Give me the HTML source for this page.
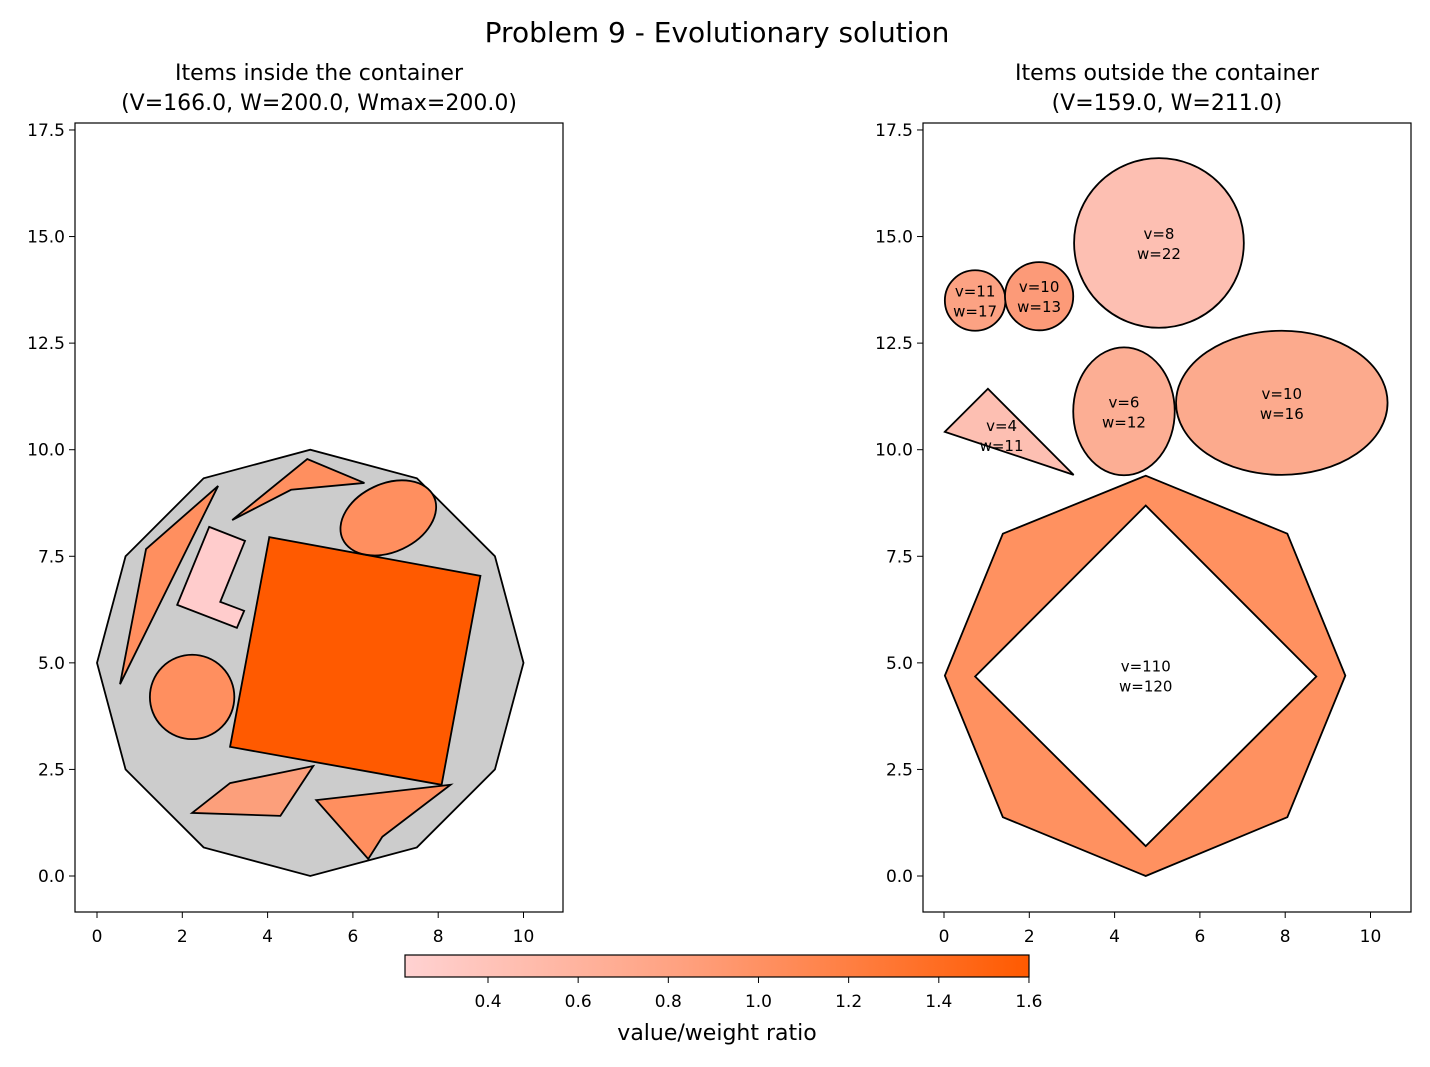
<!DOCTYPE html>
<html><head><meta charset="utf-8"><style>
body{margin:0;background:#fff;}
svg{display:block;font-family:"DejaVu Sans","Liberation Sans",sans-serif;}
</style></head><body>
<svg id="chart" width="1430" height="1067" viewBox="0 0 1430 1067">
<defs><linearGradient id="cg" x1="0" x2="1" y1="0" y2="0">
<stop offset="0" stop-color="#ffd2d2"/><stop offset="0.45" stop-color="#ffa07e"/><stop offset="1" stop-color="#ff5a00"/></linearGradient></defs>
<text x="717" y="42" text-anchor="middle" font-size="28">Problem 9 - Evolutionary solution</text>
<g id="left"></g>
<g id="right"></g>
<g id="cbar"></g>
</svg>
<script>
const xTicks=[0,2,4,6,8,10];
const yTicks=[0.0,2.5,5.0,7.5,10.0,12.5,15.0,17.5];
const cbTicks=[0.4,0.6,0.8,1.0,1.2,1.4,1.6];
const containerPoly=[[10,5],[9.33,7.5],[7.5,9.33],[5,10],[2.5,9.33],[0.67,7.5],[0,5],[0.67,2.5],[2.5,0.67],[5,0],[7.5,0.67],[9.33,2.5]];
const insidePolys=[
 {pts:[[1.15,7.67],[2.84,9.15],[0.54,4.5]],c:"#ff8f5f"},
 {pts:[[3.17,8.35],[4.93,9.78],[6.27,9.22],[4.55,9.06]],c:"#ff8f5f"},
 {pts:[[2.63,8.19],[3.47,7.86],[2.89,6.43],[3.45,6.22],[3.28,5.82],[1.88,6.36]],c:"#ffcccc"},
 {pts:[[4.04,7.95],[8.99,7.04],[8.08,2.14],[3.12,3.03]],c:"#ff5a00"},
 {pts:[[2.23,1.48],[3.12,2.18],[5.07,2.58],[4.3,1.41]],c:"#fc9f7b"},
 {pts:[[5.14,1.78],[8.29,2.14],[6.69,0.92],[6.36,0.4]],c:"#ff8f5f"}];
const insideEllipses=[{cx:2.23,cy:4.2,rx:0.99,ry:0.99,rot:0,c:"#ff8f5f"},{cx:6.83,cy:8.4,rx:1.18,ry:0.8,rot:-25,c:"#ff8f5f"}];
const outsideEllipses=[
 {cx:0.73,cy:13.5,rx:0.71,ry:0.71,c:"#fca283",l:["v=11","w=17"]},
 {cx:2.23,cy:13.6,rx:0.8,ry:0.8,c:"#fc9a78",l:["v=10","w=13"]},
 {cx:5.04,cy:14.85,rx:1.99,ry:1.99,c:"#fdbfb2",l:["v=8","w=22"]},
 {cx:4.22,cy:10.9,rx:1.19,ry:1.5,c:"#fcae94",l:["v=6","w=12"]},
 {cx:7.92,cy:11.1,rx:2.48,ry:1.69,c:"#fcaa8d",l:["v=10","w=16"]}];
const outsideTri=[[0.02,10.42],[1.03,11.43],[3.04,9.41]];
const triLabel=["v=4","w=11"],triLabelPos=[1.35,10.35];
const octOuter=[[1.38,8.03],[4.73,9.39],[8.05,8.03],[9.41,4.7],[8.05,1.38],[4.73,0.0],[1.38,1.38],[0.02,4.7]];
const octInner=[[4.73,8.69],[8.73,4.68],[4.73,0.7],[0.73,4.68]];
const octLabel=["v=110","w=120"],octLabelPos=[4.73,4.7];
const NS="http://www.w3.org/2000/svg";
function el(t,a,p){const e=document.createElementNS(NS,t);for(const k in a)e.setAttribute(k,a[k]);p.appendChild(e);return e;}
function panel(g,x0,fl,fr,ft,fb,titles){
 const sx=v=>x0+v*42.65, sy=v=>876-v*42.63;
 el('rect',{x:fl,y:ft,width:fr-fl,height:fb-ft,fill:'#fff',stroke:'none'},g);
 titles.forEach((t,i)=>{const e=el('text',{x:(fl+fr)/2,y:80+i*30,'text-anchor':'middle','font-size':22},g);e.textContent=t;
  
  });
 xTicks.forEach(v=>{el('line',{x1:sx(v),x2:sx(v),y1:fb,y2:fb+6,stroke:'#000'},g);
  const e=el('text',{x:sx(v),y:fb+30,'text-anchor':'middle','font-size':17},g);e.textContent=v;
  
  });
 yTicks.forEach(v=>{el('line',{x1:fl,x2:fl-6,y1:sy(v),y2:sy(v),stroke:'#000'},g);
  const e=el('text',{x:fl-10,y:sy(v)+6,'text-anchor':'end','font-size':17},g);e.textContent=v.toFixed(1);
  
  });
 return [sx,sy];
}
function pts(a,sx,sy){return a.map(p=>sx(p[0])+','+sy(p[1])).join(' ');}
function label(g,lines,x,y){lines.forEach((t,i)=>{const e=el('text',{x:x,y:y-4+i*20,'text-anchor':'middle','font-size':15},g);e.textContent=t;
 
 });}
const L=document.getElementById('left');
let [sx,sy]=panel(L,97,75,563,123,912,["Items inside the container","(V=166.0, W=200.0, Wmax=200.0)"]);
let c=el('polygon',{points:pts(containerPoly,sx,sy),fill:'#cccccc',stroke:'#000','stroke-width':1.8},L);


insidePolys.forEach(p=>{const e=el('polygon',{points:pts(p.pts,sx,sy),fill:p.c,stroke:'#000','stroke-width':1.8},L);
 
 });
insideEllipses.forEach(p=>{const e=el('ellipse',{cx:sx(p.cx),cy:sy(p.cy),rx:p.rx*42.65,ry:p.ry*42.63,fill:p.c,stroke:'#000','stroke-width':1.8,transform:`rotate(${p.rot} ${sx(p.cx)} ${sy(p.cy)})`},L);
 
 });
el('rect',{x:75,y:123,width:488,height:789,fill:'none',stroke:'#000','stroke-width':1.2},L);
const R=document.getElementById('right');
[sx,sy]=panel(R,944,923,1411,123,912,["Items outside the container","(V=159.0, W=211.0)"]);
outsideEllipses.forEach(p=>{const e=el('ellipse',{cx:sx(p.cx),cy:sy(p.cy),rx:p.rx*42.65,ry:p.ry*42.63,fill:p.c,stroke:'#000','stroke-width':1.8},R);
 
 
 label(R,p.l,sx(p.cx),sy(p.cy));});
let t=el('polygon',{points:pts(outsideTri,sx,sy),fill:'#fdbfb2',stroke:'#000','stroke-width':1.8},R);


label(R,triLabel,sx(triLabelPos[0]),sy(triLabelPos[1]));
let o=el('path',{d:'M'+pts(octOuter,sx,sy)+'Z M'+pts(octInner,sx,sy)+'Z',fill:'#ff9160','fill-rule':'evenodd',stroke:'#000','stroke-width':1.8},R);


label(R,octLabel,sx(octLabelPos[0]),sy(octLabelPos[1]));
el('rect',{x:923,y:123,width:488,height:789,fill:'none',stroke:'#000','stroke-width':1.2},R);
const C=document.getElementById('cbar');
const cx=v=>488+(v-0.4)*450.8;
el('rect',{x:405,y:955,width:624,height:22,fill:'url(#cg)',stroke:'#000','stroke-width':1.2},C);
cbTicks.forEach(v=>{el('line',{x1:cx(v),x2:cx(v),y1:977,y2:983,stroke:'#000'},C);
 const e=el('text',{x:cx(v),y:1007,'text-anchor':'middle','font-size':17},C);e.textContent=v.toFixed(1);
 
 });
const ct=el('text',{x:717,y:1040,'text-anchor':'middle','font-size':22},C);ct.textContent="value/weight ratio";


</script>
</body></html>
